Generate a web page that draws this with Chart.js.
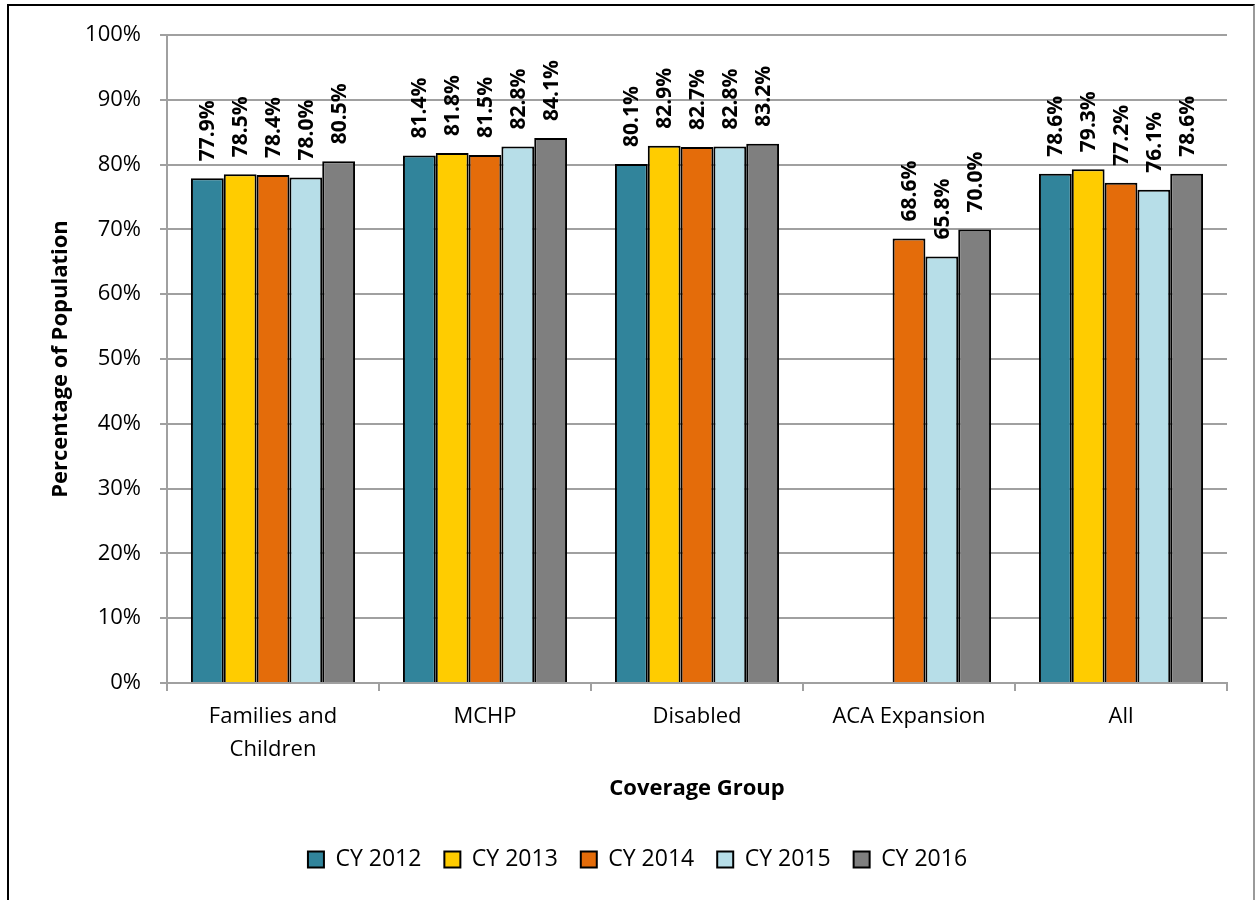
<!DOCTYPE html>
<html>
<head>
<meta charset="utf-8">
<script src="https://cdn.jsdelivr.net/npm/chart.js@4.4.1/dist/chart.umd.min.js"></script>
<style>
  html, body { margin: 0; padding: 0; background: #fff; overflow: hidden; }
  #wrap { position: absolute; left: 0; top: 0; width: 1255px; height: 900px; }
  #frame {
    position: absolute; left: 7px; top: 4px; width: 1244px; height: 920px;
    border: 2px solid #000; border-right-color: #9a9a9a; pointer-events: none;
  }
</style>
</head>
<body>
<div id="wrap"><canvas id="chart" width="1255" height="900"></canvas></div>
<div id="frame"></div>
<script>
// --- DATA ---
const groups = [['Families and', 'Children'], 'MCHP', 'Disabled', 'ACA Expansion', 'All'];
const years = ['CY 2012', 'CY 2013', 'CY 2014', 'CY 2015', 'CY 2016'];
const cy2012 = [77.9, 81.4, 80.1, null, 78.6];
const cy2013 = [78.5, 81.8, 82.9, null, 79.3];
const cy2014 = [78.4, 81.5, 82.7, 68.6, 77.2];
const cy2015 = [78.0, 82.8, 82.8, 65.8, 76.1];
const cy2016 = [80.5, 84.1, 83.2, 70.0, 78.6];
const yTicks = [0, 10, 20, 30, 40, 50, 60, 70, 80, 90, 100];

const seriesColors = ['#31849b', '#ffcc00', '#e46c0a', '#b7dee8', '#7f7f7f'];
const FONT = '"Open Sans", sans-serif';
const GRID = '#a0a0a0';

// --- VALUE LABELS (rotated, above each bar) ---
const barLabels = {
    id: 'barLabels',
    afterDatasetsDraw(chart) {
        const ctx = chart.ctx;
        ctx.save();
        ctx.font = 'bold 21px ' + FONT;
        ctx.fillStyle = '#000';
        ctx.textAlign = 'left';
        ctx.textBaseline = 'middle';
        chart.data.datasets.forEach((ds, i) => {
            chart.getDatasetMeta(i).data.forEach((bar, j) => {
                const v = ds.data[j];
                if (v === null) return;
                ctx.save();
                ctx.translate(bar.x + 1, bar.y - 17);
                ctx.rotate(-Math.PI / 2);
                ctx.fillText(v.toFixed(1) + '%', 0, 0);
                ctx.restore();
            });
        });
        ctx.restore();
    }
};

const allSeries = [cy2012, cy2013, cy2014, cy2015, cy2016];

new Chart(document.getElementById('chart'), {
    type: 'bar',
    data: {
        labels: groups,
        datasets: allSeries.map((d, i) => ({
            label: years[i],
            data: d,
            backgroundColor: seriesColors[i],
            borderColor: '#000',
            borderWidth: 2,
            borderSkipped: 'bottom',
            categoryPercentage: 0.774,
            barPercentage: 1.0
        }))
    },
    options: {
        responsive: false,
        animation: false,
        devicePixelRatio: 1,
        layout: { padding: { top: 35, right: 28, left: 48, bottom: 19 } },
        plugins: {
            tooltip: { enabled: false },
            legend: {
                position: 'bottom',
                labels: {
                    color: '#000',
                    font: { family: FONT, size: 23 },
                    boxWidth: 16,
                    boxHeight: 16,
                    padding: 23
                }
            }
        },
        scales: {
            x: {
                grid: { drawOnChartArea: false, color: GRID, lineWidth: 2, tickLength: 8 },
                border: { color: GRID, width: 2 },
                ticks: {
                    color: '#000',
                    font: { family: FONT, size: 22, lineHeight: 1.5 },
                    padding: 9,
                    maxRotation: 0,
                    autoSkip: false
                },
                title: {
                    display: true,
                    text: 'Coverage Group',
                    color: '#000',
                    font: { family: FONT, size: 22, weight: 'bold' },
                    padding: { top: 0, bottom: 23 }
                },
                afterFit(scale) { scale.height = 142; }
            },
            y: {
                min: 0,
                max: 100,
                afterBuildTicks(scale) { scale.ticks = yTicks.map(v => ({ value: v })); },
                grid: { color: GRID, lineWidth: 2, tickLength: 7 },
                border: { color: GRID, width: 2 },
                ticks: {
                    color: '#000',
                    font: { family: FONT, size: 22 },
                    padding: 19,
                    callback: v => v + '%'
                },
                title: {
                    display: true,
                    text: 'Percentage of Population',
                    color: '#000',
                    font: { family: FONT, size: 22, weight: 'bold' },
                    padding: { top: 0, bottom: 0 }
                },
                afterFit(scale) { scale.width = 119; }
            }
        }
    },
    plugins: [barLabels]
});
</script>
</body>
</html>
